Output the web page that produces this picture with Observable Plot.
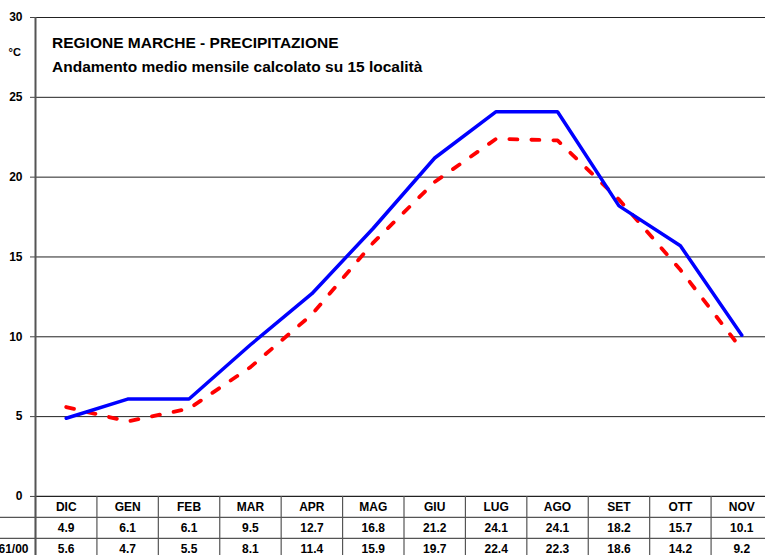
<!DOCTYPE html>
<html>
<head>
<meta charset="utf-8">
<script src="https://cdn.jsdelivr.net/npm/d3@7"></script>
<script src="https://cdn.jsdelivr.net/npm/@observablehq/plot@0.6"></script>
<style>
  html, body { margin: 0; padding: 0; background: #fff; overflow: hidden; }
  #chart { position: relative; width: 765px; height: 555px; }
  .title { position: absolute; left: 52px; font-family: "Liberation Sans", Arial, sans-serif; font-weight: bold; color: #000; white-space: nowrap; }
  svg text { font-weight: 700; }
</style>
</head>
<body>
<div id="chart">
  <div class="title" style="top:34px;font-size:15.5px;">REGIONE MARCHE - PRECIPITAZIONE</div>
  <div class="title" style="top:58px;font-size:15.5px;">Andamento medio mensile calcolato su 15 località</div>
</div>
<script>
const months = ["DIC","GEN","FEB","MAR","APR","MAG","GIU","LUG","AGO","SET","OTT","NOV"];
const serieAnno = [4.9, 6.1, 6.1, 9.5, 12.7, 16.8, 21.2, 24.1, 24.1, 18.2, 15.7, 10.1];
const serie6100 = [5.6, 4.7, 5.5, 8.1, 11.4, 15.9, 19.7, 22.4, 22.3, 18.6, 14.2, 9.2];
const rowLabel2 = "1961/00";
const yTicks = [0, 5, 10, 15, 20, 25, 30];

const dataA = months.map((m, i) => ({i, m, v: serieAnno[i]}));
const dataB = months.map((m, i) => ({i, m, v: serie6100[i]}));
const bounds = d3.range(0, months.length + 1).map(k => k - 0.5);

const font = "Liberation Sans, Arial, sans-serif";
const yMin = -3.7;
const fs = 12;

const plot = Plot.plot({
  width: 765,
  height: 555,
  marginLeft: 0, marginRight: 0, marginTop: 0, marginBottom: 0,
  style: {fontFamily: font, fontWeight: "bold", fontSize: "12px", color: "#000", background: "#fff"},
  x: {type: "linear", domain: [-0.5, 11.5], range: [35, 772], axis: null},
  y: {type: "linear", domain: [yMin, 30], range: [555, 17], axis: null},
  marks: [
    // horizontal gridlines
    Plot.ruleY(yTicks.filter(t => t > 0), {stroke: "#222", strokeWidth: 1, insetLeft: 35}),
    // y ticks
    Plot.ruleY(yTicks, {stroke: "#444", strokeWidth: 1, insetLeft: 30, insetRight: 730}),
    Plot.text(yTicks, {x: -0.5, y: d => d, dx: -13, textAnchor: "end", fontSize: fs, fontWeight: "bold", fill: "#000"}),
    Plot.text(["°C"], {x: -0.5, y: 27.8, dx: -27, textAnchor: "start", fontSize: 11, fontWeight: "bold", fill: "#000"}),
    // table horizontal lines
    Plot.ruleY([0], {stroke: "#222", strokeWidth: 1.2, insetLeft: 35}),
    Plot.ruleY([0], {dy: 21, stroke: "#555", strokeWidth: 1.2}),
    Plot.ruleY([0], {dy: 42, stroke: "#555", strokeWidth: 1.2}),
    // table vertical lines
    Plot.ruleX(bounds, {y1: 0, y2: yMin, stroke: "#555", strokeWidth: 1.2}),
    // y axis line
    Plot.ruleX([-0.5], {y1: yMin, y2: 30, stroke: "#555", strokeWidth: 2}),
    // table text
    Plot.text(dataA, {x: "i", y: 0, text: "m", dy: 11, fontSize: fs, fontWeight: "bold", fill: "#000"}),
    Plot.text(dataA, {x: "i", y: 0, text: d => d.v.toFixed(1), dy: 32, fontSize: fs, fontWeight: "bold", fill: "#000"}),
    Plot.text(dataB, {x: "i", y: 0, text: d => d.v.toFixed(1), dy: 53, fontSize: fs, fontWeight: "bold", fill: "#000"}),
    Plot.text([rowLabel2], {x: -0.5, y: 0, dy: 53, dx: -7, textAnchor: "end", fontSize: fs, fontWeight: "bold", fill: "#000"}),
    // series
    Plot.line(dataB, {x: "i", y: "v", stroke: "#ff0000", strokeWidth: 3.8, strokeDasharray: "8,14", strokeLinejoin: "round"}),
    Plot.line(dataA, {x: "i", y: "v", stroke: "#0000ff", strokeWidth: 3.5, strokeLinejoin: "miter"})
  ]
});
document.getElementById("chart").prepend(plot);
</script>
</body>
</html>
